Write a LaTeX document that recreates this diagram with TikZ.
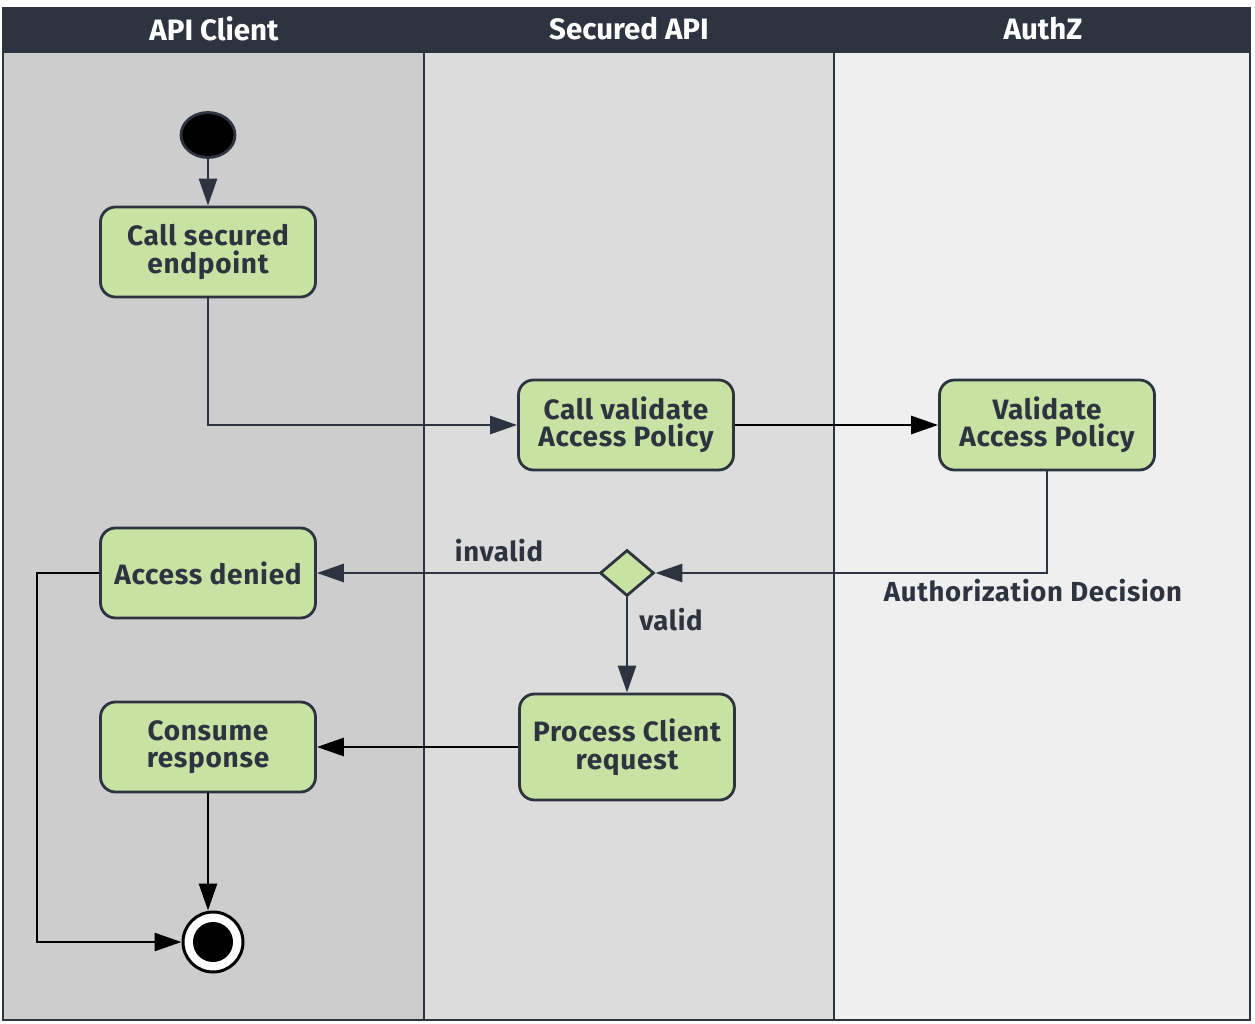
\documentclass[tikz,border=0pt]{standalone}
\usepackage{fontspec}
\setmainfont{Fira Sans}[LetterSpace=2.5]
\newfontfamily\hdrfont{Fira Sans}
\usetikzlibrary{arrows.meta,shapes.geometric}
\definecolor{slate}{HTML}{2D3440}
\definecolor{boxgreen}{HTML}{C8E2A4}
\definecolor{laneA}{HTML}{CDCDCD}
\definecolor{laneB}{HTML}{DCDCDC}
\definecolor{laneC}{HTML}{EFEFEF}
\begin{document}
\begin{tikzpicture}[x=1pt,y=-1pt,
  every node/.style={font=\fontsize{28}{27.5}\selectfont\bfseries, text=slate},
  act/.style={draw=slate, line width=2.8pt, fill=boxgreen, rounded corners=15pt,
    minimum width=215pt, minimum height=90pt, align=center, inner sep=0pt},
  dec/.style={diamond, draw=slate, line width=2.8pt, fill=boxgreen, minimum width=54pt,
    minimum height=46pt, inner sep=0pt, aspect=1.17},
  flow/.style={line width=2.8pt, draw=slate, -{Triangle[length=27pt,width=18pt]}},
  bflow/.style={line width=2.8pt, draw=black, -{Triangle[length=27pt,width=18pt]}},
  lbl/.style={font=\fontsize{27.5}{27.5}\selectfont\bfseries},
  hdr/.style={font=\hdrfont\fontsize{29.5}{29.5}\selectfont\bfseries, text=white}
]
\useasboundingbox (0,0) rectangle (1255,1024);
% lanes
\fill[laneA] (3,53) rectangle (424,1020);
\fill[laneB] (424,53) rectangle (834,1020);
\fill[laneC] (834,53) rectangle (1250,1020);
\fill[slate] (3,8) rectangle (1250,53);
\draw[slate, line width=1.5pt] (3,8) rectangle (1250,1020);
\draw[slate, line width=1.5pt] (424,53) -- (424,1020);
\draw[slate, line width=1.5pt] (834,53) -- (834,1020);
\node[hdr] (h1) at (214,29) {API Client};
\node[hdr] (h2) at (629,29) {Secured API};
\node[hdr] (h3) at (1043,29) {AuthZ};
% nodes
\node[ellipse, draw=slate, line width=2.8pt, fill=black, minimum width=54pt, minimum height=45pt, inner sep=0pt] (start) at (208,135) {};
\node[act] (cs) at (208,252) {Call secured\\endpoint};
\node[act] (cv) at (626,425) {Call validate\\Access Policy};
\node[act] (va) at (1047,425) {Validate\\Access Policy};
\node[act] (ad) at (208,573) {Access denied};
\node[dec] (d) at (627,573) {};
\node[act, minimum height=106pt] (pc) at (627,747) {Process Client\\request};
\node[act] (cr) at (208,747) {Consume\\response};
\node[circle, draw=black, fill=white, line width=3pt, minimum size=60pt, inner sep=0pt,
  path picture={\fill[black] (path picture bounding box.center) circle (20pt);}] (end) at (213,942) {};
\coordinate (lp) at (37,573);
% edges
\draw[flow] (start) -- (cs);
\draw[flow] (cs.south) |- (cv.west);
\draw[bflow] (cv.east) -- (va.west);
\draw[flow] (va.south) |- (d.east);
\draw[flow] (d.west) -- (ad.east);
\draw[flow] (d.south) -- (pc.north);
\draw[bflow] (pc.west) -- (cr.east);
\draw[bflow] (cr.south) -- (cr.south |- end.north);
\draw[bflow] (ad.west) -- (lp) |- (end.west);
% labels
\node[lbl] (l1) at (499,551) {invalid};
\node[lbl] (l2) at (671,620) {valid};
\node[lbl] (l3) at (1033,591) {Authorization Decision};
\end{tikzpicture}
\end{document}
